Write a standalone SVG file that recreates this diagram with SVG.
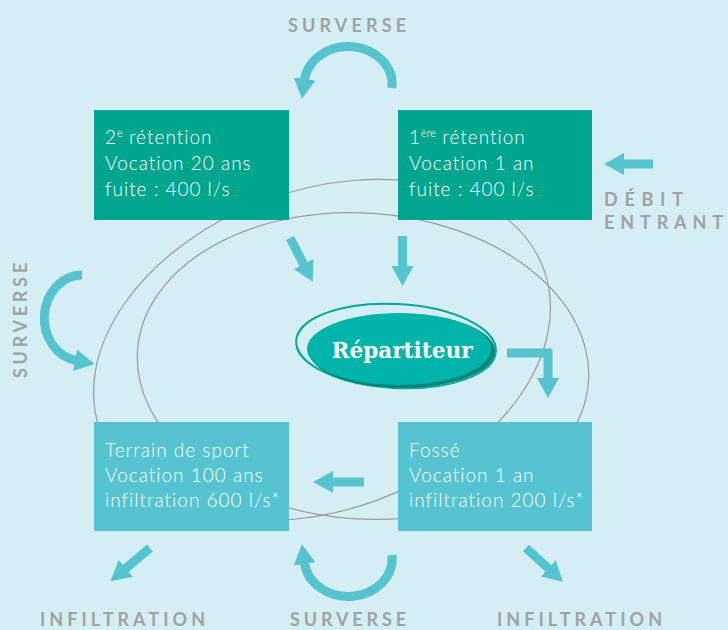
<svg xmlns="http://www.w3.org/2000/svg" width="728" height="630" viewBox="0 0 728 630">
<defs>
<style>
.t{font-family:Lato,"Open Sans",sans-serif;font-size:19px;font-weight:300;letter-spacing:1px;fill:#ffffff}
.sup{font-size:11px;letter-spacing:0}
.lbl{font-family:Lato,"Open Sans",sans-serif;font-weight:700;font-size:18px;fill:#a1a1a6}
.orbit{fill:none;stroke:#9a9a9a;stroke-width:1.2}
.arr{fill:none;stroke:#56c4cf;stroke-width:9;stroke-linejoin:miter;stroke-linecap:butt;marker-end:url(#ah)}
.green{fill:#00a58d}
.blue{fill:#55c4d0}
</style>
<marker id="ah" viewBox="0 0 20 22" refX="1" refY="11" markerWidth="20" markerHeight="22" orient="auto" markerUnits="userSpaceOnUse">
<path d="M0,0 L20,11 L0,22 Z" fill="#56c4cf"/>
</marker>
</defs>
<rect width="728" height="630" fill="#d5eef4"/>
<g id="orbits">
<ellipse class="orbit" cx="322" cy="350" rx="236" ry="160" transform="rotate(-20 322 350)"/>
<ellipse class="orbit" cx="363" cy="366" rx="226" ry="153" transform="rotate(4 363 366)"/>
</g>
<g id="retention2">
<rect class="green" x="94" y="110" width="195" height="110"/>
<text class="t" x="105" y="144">2<tspan class="sup" dy="-7">e</tspan><tspan dy="7"> rétention</tspan></text>
<text class="t" x="105" y="170">Vocation 20 ans</text>
<text class="t" x="105" y="196">fuite : 400 l/s</text>
</g>
<g id="retention1">
<rect class="green" x="398" y="110" width="194" height="110"/>
<text class="t" x="409" y="144">1<tspan class="sup" dy="-7">ère</tspan><tspan dy="7"> rétention</tspan></text>
<text class="t" x="409" y="170">Vocation 1 an</text>
<text class="t" x="409" y="196">fuite : 400 l/s</text>
</g>
<g id="terrain">
<rect class="blue" x="94" y="422" width="195" height="109"/>
<text class="t" x="105" y="457">Terrain de sport</text>
<text class="t" x="105" y="482">Vocation 100 ans</text>
<text class="t" x="105" y="507">infiltration 600 l/s*</text>
</g>
<g id="fosse">
<rect class="blue" x="398" y="422" width="194" height="109"/>
<text class="t" x="409" y="457">Fossé</text>
<text class="t" x="409" y="482">Vocation 1 an</text>
<text class="t" x="409" y="507">infiltration 200 l/s*</text>
</g>
<g id="repartiteur">
<ellipse cx="396" cy="346" rx="100" ry="42" fill="none" stroke="#00a89a" stroke-width="2" transform="rotate(3 396 346)"/>
<ellipse cx="402" cy="351" rx="93" ry="37" fill="#00857a"/>
<ellipse cx="399" cy="349" rx="92" ry="36" fill="#00b4a9"/>
<text x="402" y="358" text-anchor="middle" font-family="'DejaVu Serif',serif" font-weight="700" font-size="22" fill="#ffffff" textLength="141" lengthAdjust="spacingAndGlyphs">Répartiteur</text>
</g>
<g id="connectors">
<path class="arr" d="M653,164 H623"/>
<path class="arr" d="M290,238 L304,265"/>
<path class="arr" d="M402.5,236 V267"/>
<path class="arr" d="M507,353 H548 V379"/>
<path class="arr" d="M364,482 H332"/>
<path class="arr" d="M150,548 L125,569"/>
<path class="arr" d="M526,548 L549,569"/>
<path class="arr" d="M392,88 A44,38 0 0 0 304.5,80"/>
<path class="arr" d="M392,555 A44,38 0 0 1 304.5,563"/>
<path class="arr" d="M82,275 A38,43 0 0 0 76,360.4"/>
</g>
<g id="labels">
<text class="lbl" x="288" y="32" textLength="118" lengthAdjust="spacing">SURVERSE</text>
<text class="lbl" x="604" y="206" font-size="19" textLength="79" lengthAdjust="spacing">DÉBIT</text>
<text class="lbl" x="604" y="229" font-size="19" textLength="119" lengthAdjust="spacing">ENTRANT</text>
<text class="lbl" transform="translate(27,378) rotate(-90)" x="0" y="0" textLength="115" lengthAdjust="spacing">SURVERSE</text>
<text class="lbl" x="40" y="626" textLength="165" lengthAdjust="spacing">INFILTRATION</text>
<text class="lbl" x="290" y="626" textLength="116" lengthAdjust="spacing">SURVERSE</text>
<text class="lbl" x="497" y="626" textLength="165" lengthAdjust="spacing">INFILTRATION</text>
</g>
</svg>
